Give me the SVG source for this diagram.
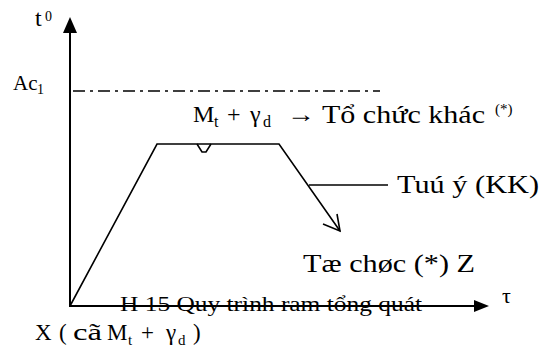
<svg xmlns="http://www.w3.org/2000/svg" width="543" height="352" viewBox="0 0 543 352">
<style>
.ln{stroke:#000;stroke-width:1.6;fill:none}
.ax{stroke:#000;stroke-width:2;fill:none}
</style>
<rect width="543" height="352" fill="#fff"/>
<g id="connectors">
<line id="y-axis" class="ax" x1="70" y1="307" x2="70" y2="30"/>
<polygon points="70,17 63,33 77,33" fill="#000"/>
<line id="x-axis" class="ax" x1="70" y1="306" x2="476" y2="306"/>
<polygon points="489,306 474,300 474,312" fill="#000"/>
<line id="ac1-line" x1="73" y1="91" x2="380" y2="91" stroke="#000" stroke-width="1.4" stroke-dasharray="12 5 3 5"/>
<polyline id="curve" class="ln" points="70,306 157,144 279,144 340,231"/>
<path class="ln" d="M337,214 L340,231 L323,224"/>
<path class="ln" d="M197,144 L202,152 L206,152 L211,144"/>
<line class="ln" x1="309" y1="185" x2="388" y2="185"/>
</g>
<g font-family="'Liberation Serif', 'DejaVu Serif', serif" fill="#000">
<g id="axis-labels">
<text x="35" y="26" font-size="24">t</text>
<text x="45" y="21" font-size="14">0</text>
<text x="13" y="90" font-size="21">Ac</text>
<text x="37" y="94" font-size="14">1</text>
<text x="502" y="303" font-size="22">τ</text>
</g>
<g id="label-transform">
<text x="193" y="122" font-size="24">M</text>
<text x="214" y="127" font-size="16">t</text>
<text x="227" y="122" font-size="24">+</text>
<text x="250" y="122" font-size="24">γ</text>
<text x="263" y="127" font-size="16">d</text>
<text x="287" y="122" font-size="24" textLength="28" lengthAdjust="spacingAndGlyphs">→</text>
<text x="322" y="123" font-size="26" textLength="163" lengthAdjust="spacingAndGlyphs">Tổ chức khác</text>
<text x="495" y="114" font-size="15">(*)</text>
</g>
<g id="label-air">
<text x="397" y="193" font-size="26" textLength="142" lengthAdjust="spacingAndGlyphs">Tuú ý (KK)</text>
</g>
<g id="label-cooling">
<text x="303" y="272" font-size="26" textLength="172" lengthAdjust="spacingAndGlyphs">Tæ chøc (*) Z</text>
</g>
<g id="label-origin">
<text x="35" y="340" font-size="23">X</text>
<text x="59" y="340" font-size="23">(</text>
<text x="73" y="340" font-size="23" textLength="29" lengthAdjust="spacingAndGlyphs">cã</text>
<text x="107" y="340" font-size="23">M</text>
<text x="128" y="345" font-size="15">t</text>
<text x="141" y="340" font-size="23">+</text>
<text x="166" y="340" font-size="23">γ</text>
<text x="178" y="345" font-size="15">d</text>
<text x="193" y="340" font-size="23">)</text>
</g>
<g id="caption">
<text x="120" y="311" font-size="21" textLength="302" lengthAdjust="spacingAndGlyphs">H 15  Quy trình ram tổng quát</text>
</g>
</g>
</svg>
